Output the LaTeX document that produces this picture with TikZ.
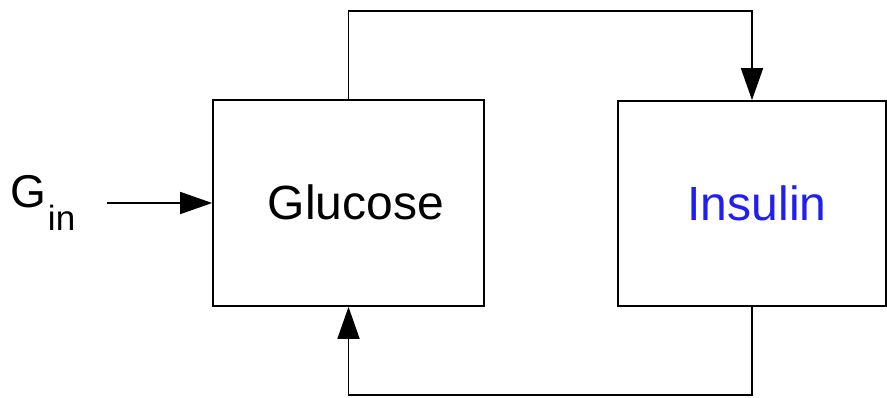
\documentclass[tikz,border=0pt]{standalone}
\usepackage{fontspec}
\setmainfont{Liberation Sans}
\usetikzlibrary{arrows.meta}
\definecolor{insblue}{RGB}{30,30,245}
\begin{document}
\begin{tikzpicture}[x=1pt,y=-1pt,
  box/.style={draw=black, line width=1.7pt, inner sep=0pt},
  lbl/.style={inner sep=0pt, anchor=base, font=\fontsize{48}{58}\selectfont},
  link/.style={line width=1.7pt, -{Triangle[length=32pt,width=22pt]}}]
  \useasboundingbox (0,0) rectangle (887,398);
  % blocks
  \node[box, minimum width=271pt, minimum height=206pt] (glu) at (348.5,203) {};
  \node[box, minimum width=268pt, minimum height=205pt] (ins) at (752,203.5) {};
  % block labels
  \node[lbl] (glutxt) at (356,220) {Glucose};
  \node[lbl, text=insblue] (instxt) at (757,221) {Insulin};
  % input label
  \node[inner sep=0pt, anchor=base west, font=\fontsize{46}{55}\selectfont] (gin) at (10,208)
    {G\kern2pt\raisebox{-23pt}{\fontsize{35}{42}\selectfont in}};
  \coordinate (gstart) at (107,203);
  % connectors
  \draw[link] (gstart) -- (glu.west);
  \draw[link] (glu.north) -- ++(0,-88) -| (ins.north);
  \draw[link] (ins.south) -- ++(0,88) -| (glu.south);
\end{tikzpicture}
\end{document}
